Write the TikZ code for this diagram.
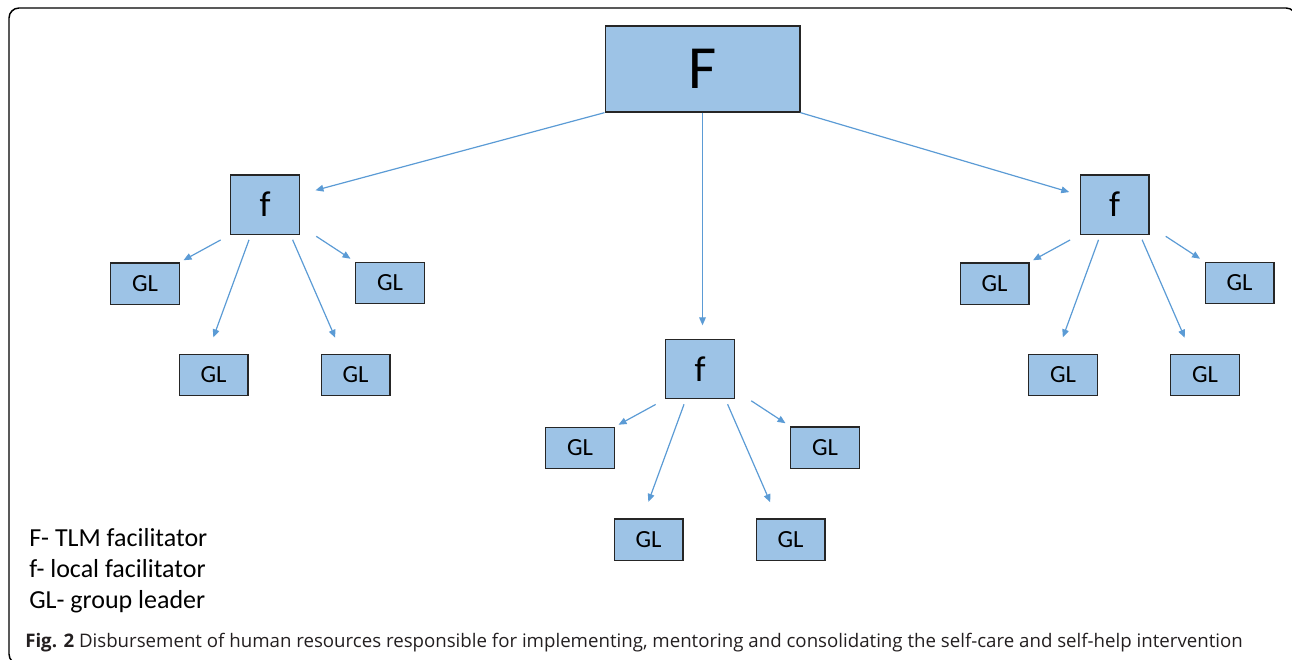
\documentclass[tikz,border=0pt]{standalone}
\usepackage{fontspec}
\usepackage{tikz}
\usetikzlibrary{arrows.meta}
\setmainfont{Carlito}
\newfontfamily\captionfont{Open Sans}
\definecolor{boxblue}{RGB}{157, 195, 230}
\definecolor{linkblue}{RGB}{91, 155, 213}
\definecolor{boxedge}{RGB}{38, 38, 38}
\definecolor{captiongray}{RGB}{35, 31, 32}

\begin{document}
\begin{tikzpicture}[
    x=0.75pt, y=-0.75pt,
    box/.style={draw=boxedge, fill=boxblue, line width=1pt, inner sep=0pt},
    leader/.style={box, minimum width=51.5pt, minimum height=31pt, font=\fontsize{18.5}{20}\selectfont},
    local/.style={box, minimum width=51.5pt, minimum height=44.5pt, font=\fontsize{27}{30}\selectfont},
    link/.style={linkblue, line width=0.9pt, -{Triangle[length=6pt, width=5pt]}},
    legend/.style={anchor=base west, inner sep=0pt, font=\fontsize{19.5}{23}\selectfont}
]

    % ==========================================
    % CANVAS & FRAME
    % ==========================================
    \useasboundingbox (0,0) rectangle (1292,660);
    \draw[black, line width=1.1pt, rounded corners=7.5pt] (9,8) rectangle (1296,664);


    % ==========================================
    % LEVEL 1: TLM FACILITATOR
    % ==========================================
    \node[box, minimum width=146pt, minimum height=64.5pt, font=\fontsize{46}{50}\selectfont] (top) at (702.5,69) {F};


    % ==========================================
    % LEVEL 2 & 3: LOCAL FACILITATORS + GROUP LEADERS
    % ==========================================
    \foreach \g/\x/\y in {1/265/204.5, 2/700/369, 3/1114.5/204.5} {
        \node[local] (f\g) at (\x,\y) {f};

        \node[leader] (gl\g-a) at ([shift={(-120,79)}]f\g.center)    {GL};
        \node[leader] (gl\g-b) at ([shift={(-51.5,170.5)}]f\g.center) {GL};
        \node[leader] (gl\g-c) at ([shift={(90.5,170.5)}]f\g.center)  {GL};
        \node[leader] (gl\g-d) at ([shift={(125,78.5)}]f\g.center)    {GL};

        \draw[link, shorten <=8pt, shorten >=3pt]  (f\g.south west) -- (gl\g-a.north east);
        \draw[link, shorten <=4pt, shorten >=13pt] (f\g.-115) -- (gl\g-b.106);
        \draw[link, shorten <=4pt, shorten >=13pt] (f\g.-50)  -- (gl\g-c.122);
        \draw[link, shorten <=2pt, shorten >=4pt]  ([shift={(14,0)}]f\g.south east) -- (gl\g-d.north west);
    }


    % ==========================================
    % LINKS FROM F
    % ==========================================
    \draw[link, shorten >=12pt] (top.south west) -- (f1.16);
    \draw[link, shorten >=10pt] (top.south) -- (top.south |- f2.north);
    \draw[link, shorten >=8pt]  (top.south east) -- (f3.165);


    % ==========================================
    % LEGEND & CAPTION
    % ==========================================
    \node[legend] (key-F)  at (29,546) {F- TLM facilitator};
    \node[legend] (key-f)  at (29,577) {f- local facilitator};
    \node[legend] (key-GL) at (29,608) {GL- group leader};

    \node[anchor=base west, inner sep=0pt, text=captiongray, font=\captionfont\fontsize{14}{16}\selectfont] (caption) at (25,647)
        {\textbf{Fig. 2} Disbursement of human resources responsible for implementing, mentoring and consolidating the self-care and self-help intervention};

\end{tikzpicture}
\end{document}
